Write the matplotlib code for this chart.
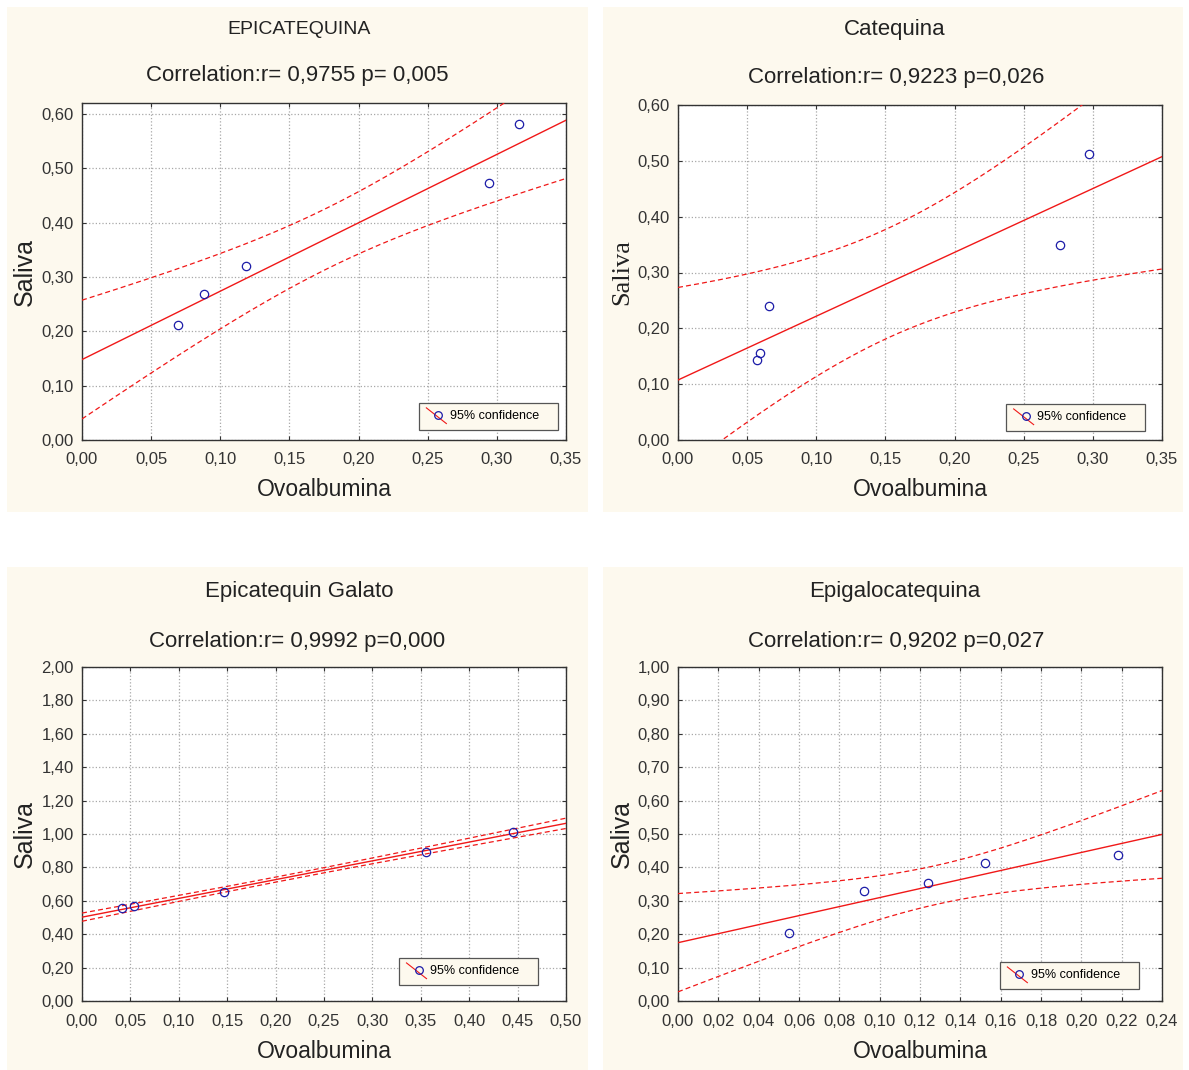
import matplotlib
matplotlib.use('Agg')
import matplotlib.pyplot as plt
import numpy as np
from matplotlib.patches import Rectangle
from matplotlib.lines import Line2D
from matplotlib.ticker import FuncFormatter, MultipleLocator

plt.rcParams['font.family'] = ['Liberation Sans Narrow', 'Liberation Sans', 'DejaVu Sans']

# data
titles = ['EPICATEQUINA', 'Catequina', 'Epicatequin Galato', 'Epigalocatequina']
corr_texts = ['Correlation:r= 0,9755 p= 0,005',
              'Correlation:r= 0,9223 p=0,026',
              'Correlation:r= 0,9992 p=0,000',
              'Correlation:r= 0,9202 p=0,027']

x_epi = [0.0697, 0.0882, 0.1184, 0.2945, 0.3160]
y_epi = [0.2114, 0.2688, 0.3208, 0.4729, 0.5817]

x_cat = [0.0573, 0.0591, 0.0659, 0.2765, 0.2971]
y_cat = [0.1428, 0.1566, 0.2396, 0.3496, 0.5127]

x_ecg = [0.0416, 0.0540, 0.1462, 0.3554, 0.4448]
y_ecg = [0.5550, 0.5670, 0.6547, 0.8935, 1.0110]

x_egc = [0.0550, 0.0922, 0.1241, 0.1522, 0.2180]
y_egc = [0.2050, 0.3303, 0.3542, 0.4120, 0.4378]

xlims = [0.35, 0.35, 0.50, 0.24]
xsteps = [0.05, 0.05, 0.05, 0.02]
ylims = [0.62, 0.60, 2.00, 1.00]
ysteps = [0.10, 0.10, 0.20, 0.10]

T_CRIT = 3.182  # t(0.975, df=3)

W, H = 1189, 1070
fig = plt.figure(figsize=(W / 100, H / 100), dpi=100)
fig.patch.set_facecolor('white')

CREAM = '#fdf9ee'
RED = '#f01818'
BLUE = '#1c1ca8'
DARK = '#333333'


def fx(px):
    return px / W


def fy(py):
    return 1 - py / H


class DiagHandler:
    def legend_artist(self, legend, orig_handle, fontsize, handlebox):
        x0, y0 = handlebox.xdescent, handlebox.ydescent
        w, h = handlebox.width, handlebox.height
        ln = Line2D([x0, x0 + w], [y0 + h + 2, y0 - 3], color=RED, lw=0.8)
        mk = Line2D([x0 + w * 0.6], [y0 + h / 2], marker='o', mfc='none',
                    mec=BLUE, ms=5.5, mew=0.9, ls='none')
        ln.set_transform(handlebox.get_transform())
        mk.set_transform(handlebox.get_transform())
        handlebox.add_artist(ln)
        handlebox.add_artist(mk)
        return ln


fmt = FuncFormatter(lambda v, p: f'{v:.2f}'.replace('.', ','))

panels = [
    # bg rect (x0,y0,x1,y1), axes (l,t,r,b), title y, corr y, ylabel x, xlabel y, legend bbox, serif ylabel, title size
    ((7, 7, 588, 512), (82, 103, 566, 440), 30, 76, 25, 490, (0.696, 0.03, 0.287, 0.074), False, 14),
    ((603, 7, 1183, 512), (678, 105, 1162, 440), 30, 78, 622, 490, (0.678, 0.027, 0.287, 0.074), True, 16),
    ((7, 567, 588, 1070), (82, 667, 566, 1001), 591, 641, 25, 1051, (0.655, 0.048, 0.287, 0.074), False, 16),
    ((603, 567, 1183, 1070), (678, 667, 1162, 1001), 591, 641, 622, 1051, (0.665, 0.036, 0.287, 0.074), False, 16),
]
data = [(x_epi, y_epi), (x_cat, y_cat), (x_ecg, y_ecg), (x_egc, y_egc)]

for i, (bg, box, ty, cy, ylx, xly, lbox, serif, tsize) in enumerate(panels):
    fig.add_artist(Rectangle((fx(bg[0]), fy(bg[3])), fx(bg[2] - bg[0]), (bg[3] - bg[1]) / H,
                             transform=fig.transFigure, facecolor=CREAM, edgecolor='none', zorder=0))
    l, t, r, b = box
    ax = fig.add_axes([fx(l), fy(b), fx(r - l), (b - t) / H])
    ax.set_facecolor('white')

    x = np.array(data[i][0])
    y = np.array(data[i][1])
    slope, icpt = np.polyfit(x, y, 1)
    n = len(x)
    resid = y - (icpt + slope * x)
    s = np.sqrt(np.sum(resid ** 2) / (n - 2))
    sxx = np.sum((x - x.mean()) ** 2)
    xs = np.linspace(0, xlims[i], 200)
    ys = icpt + slope * xs
    half = T_CRIT * s * np.sqrt(1 / n + (xs - x.mean()) ** 2 / sxx)

    ax.plot(xs, ys, color=RED, lw=1.0, zorder=3)
    ax.plot(xs, ys + half, color=RED, lw=0.9, ls=(0, (4, 2.5)), zorder=3)
    ax.plot(xs, ys - half, color=RED, lw=0.9, ls=(0, (4, 2.5)), zorder=3)
    ax.plot(x, y, ls='none', marker='o', mfc='none', mec=BLUE, ms=6, mew=0.9, zorder=4)

    ax.set_xlim(0, xlims[i])
    ax.set_ylim(0, ylims[i])
    ax.xaxis.set_major_locator(MultipleLocator(xsteps[i]))
    ax.yaxis.set_major_locator(MultipleLocator(ysteps[i]))
    ax.xaxis.set_major_formatter(fmt)
    ax.yaxis.set_major_formatter(fmt)
    ax.tick_params(direction='in', length=3, width=0.8, colors=DARK, labelsize=12,
                   top=True, right=True, pad=6)
    ax.tick_params(axis='x', pad=9)
    ax.grid(True, color='#a8a8a8', ls=':', lw=0.9)
    for sp in ax.spines.values():
        sp.set_color(DARK)
        sp.set_linewidth(1.0)

    leg = ax.legend([Line2D([], [])], ['95% confidence'], handler_map={Line2D: DiagHandler()},
                    loc='lower left', bbox_to_anchor=lbox, mode='expand', fontsize=9,
                    borderaxespad=0, fancybox=False, framealpha=1, facecolor=CREAM,
                    edgecolor='#555555', handlelength=1.6, handletextpad=0.3, borderpad=0.6)
    leg.get_frame().set_linewidth(0.9)
    leg.set_zorder(5)

    cx = fx((l + r) / 2)
    fig.text(cx - fx(25), fy(ty), titles[i], ha='center', va='center', fontsize=tsize, color='#222222')
    fig.text(cx - fx(27) + (fx(3) if i % 2 else 0), fy(cy), corr_texts[i], ha='center', va='center',
             fontsize=16, color='#222222')
    fig.text(cx, fy(xly), 'Ovoalbumina', ha='center', va='center', fontsize=16.5, color='#222222')
    if serif:
        fig.text(fx(ylx), fy((t + b) / 2), 'Saliva', rotation=90, ha='center', va='center',
                 fontsize=19, color='#222222', family=['Liberation Serif', 'DejaVu Serif'])
    else:
        fig.text(fx(ylx), fy((t + b) / 2), 'Saliva', rotation=90, ha='center', va='center',
                 fontsize=18, color='#222222')

fig.savefig('out.png', dpi=100, facecolor='white')
